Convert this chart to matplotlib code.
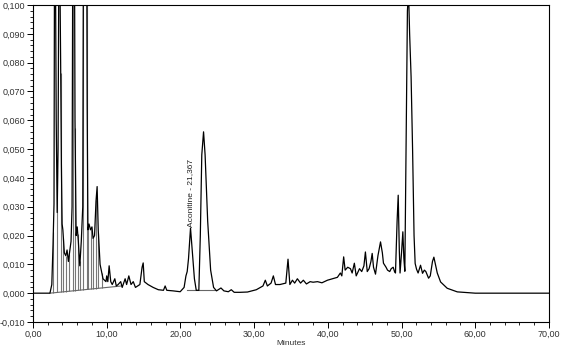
import numpy as np
import matplotlib
matplotlib.use("Agg")
import matplotlib.pyplot as plt
from matplotlib.ticker import MultipleLocator, FuncFormatter

# chromatogram trace (minutes, AU)
time_min = [0, 2.3, 2.55, 2.72, 2.85, 2.95, 3.15, 3.28, 3.4, 3.55, 3.75, 3.85, 3.95,
            4.05, 4.25, 4.45, 4.62, 4.8, 5.0, 5.16, 5.3, 5.5, 5.7, 5.85, 6.0,
            6.15, 6.35, 6.55, 6.75, 6.9, 7.2, 7.35, 7.45, 7.6, 7.8, 8.0, 8.15,
            8.35, 8.55, 8.7, 8.85, 9.1, 9.5, 9.9, 10.0, 10.15, 10.33, 10.55,
            10.75, 11.1, 11.3, 11.55, 11.9, 12.1, 12.5, 12.7, 13.0, 13.3, 13.6,
            13.9, 14.5, 14.8, 14.95, 15.1, 15.6, 16.3, 17.0, 17.7, 17.93, 18.15,
            19.0, 19.97, 20.5, 20.75, 20.92, 21.1, 21.37, 21.6, 21.9, 22.15,
            22.5, 22.7, 22.9, 23.14, 23.35, 23.7, 24.1, 24.5, 24.9, 25.5, 25.9,
            26.5, 26.9, 27.3, 28.1, 29.1, 30.3, 31.2, 31.52, 31.8, 32.3, 32.61,
            32.9, 33.5, 34.3, 34.6, 34.85, 35.2, 35.5, 35.87, 36.3, 36.68, 37.1,
            37.6, 38.0, 38.6, 39.2, 39.95, 40.6, 41.3, 41.7, 41.9, 42.15, 42.35,
            42.7, 43.07, 43.3, 43.6, 43.85, 44.3, 44.6, 44.9, 45.1, 45.35, 45.6,
            45.85, 46.02, 46.2, 46.47, 46.8, 47.15, 47.4, 47.55, 47.9, 48.1,
            48.4, 48.6, 48.87, 49.05, 49.18, 49.4, 49.55, 49.7, 49.8, 50.0,
            50.18, 50.32, 50.45, 50.65, 50.8, 50.95, 51.1, 51.3, 51.5, 51.7,
            51.85, 52.04, 52.25, 52.58, 52.85, 53.1, 53.3, 53.67, 53.9, 54.2,
            54.39, 54.6, 54.85, 55.3, 56.2, 57.57, 59.4, 60.0, 70.0]
absorbance = [0, 0, 0.003, 0.017, 0.031, 0.16, 0.06, 0.028, 0.05, 0.14, 0.08,
              0.045, 0.024, 0.022, 0.014, 0.013, 0.015, 0.011, 0.015, 0.018,
              0.03, 0.22, 0.06, 0.02, 0.023, 0.018, 0.0095, 0.018, 0.03, 0.18,
              0.2, 0.065, 0.022, 0.024, 0.022, 0.023, 0.019, 0.02, 0.032, 0.037,
              0.022, 0.01, 0.005, 0.004, 0.006, 0.004, 0.0095, 0.004, 0.003,
              0.005, 0.0025, 0.003, 0.004, 0.002, 0.005, 0.003, 0.006, 0.003,
              0.004, 0.002, 0.003, 0.009, 0.0105, 0.004, 0.003, 0.002, 0.0012,
              0.001, 0.0025, 0.001, 0.0008, 0.0005, 0.002, 0.006, 0.0075, 0.012,
              0.0226, 0.015, 0.005, 0.001, 0.001, 0.02, 0.048, 0.056, 0.048,
              0.025, 0.008, 0.002, 0.0008, 0.0018, 0.0008, 0.0005, 0.0012,
              0.0003, 0.0003, 0.0004, 0.0012, 0.0025, 0.0045, 0.0025, 0.0035,
              0.006, 0.003, 0.003, 0.0035, 0.0118, 0.003, 0.0045, 0.0035, 0.005,
              0.0035, 0.0045, 0.0032, 0.004, 0.0038, 0.004, 0.0036, 0.0045,
              0.005, 0.0055, 0.007, 0.006, 0.0126, 0.008, 0.009, 0.0085, 0.007,
              0.0104, 0.006, 0.0085, 0.0075, 0.0095, 0.0143, 0.0075, 0.0085,
              0.011, 0.0138, 0.009, 0.0066, 0.013, 0.0178, 0.014, 0.0104, 0.009,
              0.008, 0.0075, 0.0085, 0.009, 0.0075, 0.007, 0.025, 0.034, 0.015,
              0.007, 0.014, 0.0213, 0.012, 0.0076, 0.06, 0.098, 0.105, 0.09,
              0.075, 0.05, 0.02, 0.0103, 0.0083, 0.007, 0.0097, 0.0069, 0.008,
              0.0075, 0.0052, 0.006, 0.011, 0.0125, 0.01, 0.007, 0.0039, 0.0017,
              0.00045, 0.0001, 0, 0]

# integration baselines
base1_t = [2.3, 12.0]
base1_v = [0.0, 0.0025]
base2_t = [20.9, 24.7]
base2_v = [0.001, 0.001]

# peak drop lines (minutes)
drop_times = [2.76, 3.22, 3.76, 4.12, 4.44, 4.93, 5.39, 5.71, 6.07, 6.39,
              6.84, 7.3, 7.5, 7.88, 8.2, 8.56, 8.87, 9.33]

peak_label = "Aconitine - 21,367"
peak_time = 21.37

fig = plt.figure(figsize=(5.76, 3.46), dpi=100)
ax = fig.add_axes([0.0573, 0.0694, 0.8957, 0.916])

# drop lines from baseline to trace
drop_base = np.interp(drop_times, base1_t, base1_v)
drop_top = np.interp(drop_times, time_min, absorbance)
ax.vlines(drop_times, drop_base, drop_top, color='#777777', lw=0.8)
ax.plot(base1_t, base1_v, color='#666666', lw=0.8)
ax.plot(base2_t, base2_v, color='#666666', lw=0.8)
ax.plot(time_min, absorbance, color='black', lw=0.9)

peak_v = np.interp(peak_time, time_min, absorbance)
ax.text(peak_time, peak_v + 0.0004, peak_label, rotation=90, ha='center',
        va='bottom', fontsize=6, family=['Liberation Sans Narrow', 'Liberation Sans'],
        color='#222222')

ax.set_xlim(0, 70)
ax.set_ylim(-0.010, 0.100)
ax.xaxis.set_major_locator(MultipleLocator(10))
ax.xaxis.set_minor_locator(MultipleLocator(2))
ax.yaxis.set_major_locator(MultipleLocator(0.01))
ax.yaxis.set_minor_locator(MultipleLocator(0.002))
ax.xaxis.set_major_formatter(FuncFormatter(lambda v, p: f"{v:.2f}".replace('.', ',')))
ax.yaxis.set_major_formatter(FuncFormatter(lambda v, p: f"{v:.3f}".replace('.', ',')))
ax.tick_params(which='major', length=4, width=0.7, labelsize=6.5, labelcolor='#333333',
               pad=1.5)
ax.tick_params(which='minor', length=2, width=0.6)
for lab in ax.get_xticklabels() + ax.get_yticklabels():
    lab.set_family('Liberation Sans')
for s in ax.spines.values():
    s.set_linewidth(0.8)

ax.set_xlabel('Minutes', fontsize=6, family='Liberation Sans', labelpad=1, color='#333333')

fig.savefig('out.png', dpi=100)
